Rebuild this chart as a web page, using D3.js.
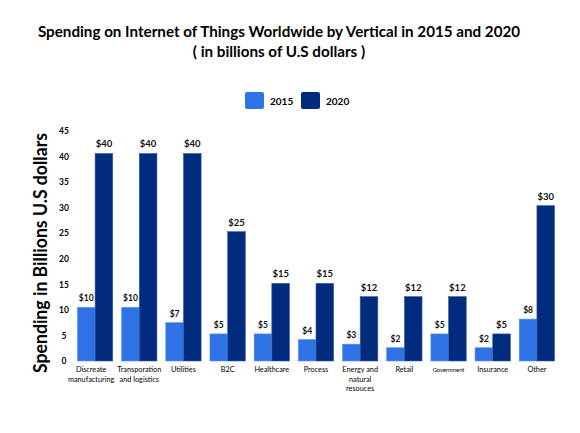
<!DOCTYPE html>
<html>
<head>
<meta charset="utf-8">
<script src="https://cdn.jsdelivr.net/npm/d3@7"></script>
<style>
  body { margin: 0; background: #fff; }
  svg { font-family: Lato, 'Open Sans', sans-serif; }
</style>
</head>
<body>
<svg width="580" height="433"></svg>
<script>
// categories (label lines) and values
const categories = [
  ['Discreate', 'manufacturing'],
  ['Transporation', 'and logistics'],
  ['Utilities'],
  ['B2C'],
  ['Healthcare'],
  ['Process'],
  ['Energy and', 'natural', 'resouces'],
  ['Retail'],
  ['Government'],
  ['Insurance'],
  ['Other']
];
const values2015 = [10.5, 10.5, 7.5, 5.3, 5.3, 4.2, 3.3, 2.6, 5.3, 2.6, 8.2];
const values2020 = [40.6, 40.6, 40.6, 25.3, 15.2, 15.2, 12.6, 12.6, 12.6, 5.3, 30.4];
const labels2015 = ['$10', '$10', '$7', '$5', '$5', '$4', '$3', '$2', '$5', '$2', '$8'];
const labels2020 = ['$40', '$40', '$40', '$25', '$15', '$15', '$12', '$12', '$12', '$5', '$30'];
const yTicks = [0, 5, 10, 15, 20, 25, 30, 35, 40, 45];
const seriesNames = ['2015', '2020'];
const colors = ['#2e72e6', '#012c7d'];

const svg = d3.select('svg');
const margin = { top: 131, right: 21, bottom: 72, left: 73 };
const width = +svg.attr('width') - margin.left - margin.right;
const height = +svg.attr('height') - margin.top - margin.bottom;

const g = svg.append('g')
  .attr('transform', `translate(${margin.left},${margin.top})`);

const ids = categories.map((c, i) => i);
const x = d3.scaleBand().domain(ids).range([0, width]).paddingInner(0.2).paddingOuter(0.1);
const x1 = d3.scaleBand().domain(seriesNames).range([0, x.bandwidth()]);
const y = d3.scaleLinear().domain([0, 45]).range([height, 0]);

// title
svg.append('text')
  .attr('x', 279).attr('y', 37)
  .attr('text-anchor', 'middle')
  .attr('font-size', 15.2).attr('font-weight', 'bold')
  .text('Spending on Internet of Things Worldwide by Vertical in 2015 and 2020');
svg.append('text')
  .attr('x', 279).attr('y', 57)
  .attr('text-anchor', 'middle')
  .attr('font-size', 15.2).attr('font-weight', 'bold')
  .text('( in billions of U.S dollars )');

// legend
const legend = svg.append('g');
seriesNames.forEach((name, i) => {
  const lx = 245 + i * 56;
  legend.append('rect')
    .attr('x', lx).attr('y', 92).attr('width', 19).attr('height', 17)
    .attr('rx', 2).attr('fill', colors[i]);
  legend.append('text')
    .attr('x', lx + 25).attr('y', 105)
    .attr('font-size', 10).attr('font-weight', 'bold')
    .text(name);
});

// y axis
const yAxis = g.append('g')
  .call(d3.axisLeft(y).tickValues(yTicks).tickSize(0).tickPadding(0));
yAxis.select('.domain').remove();
yAxis.selectAll('text')
  .attr('x', -9)
  .attr('text-anchor', 'middle')
  .attr('font-size', 8.5).attr('font-weight', 'bold')
  .attr('font-family', 'Lato, sans-serif')
  .attr('fill', '#000');

// y axis title
svg.append('text')
  .attr('transform', `translate(47,253) rotate(-90)`)
  .attr('text-anchor', 'middle')
  .attr('font-size', 19).attr('font-weight', 'bold')
  .attr('textLength', 240).attr('lengthAdjust', 'spacingAndGlyphs')
  .text('Spending in Billions U.S dollars');

// bars
const series = [values2015, values2020];
const seriesLabels = [labels2015, labels2020];
series.forEach((vals, s) => {
  g.selectAll(`.bar-${s}`)
    .data(vals)
    .enter().append('rect')
    .attr('class', `bar-${s}`)
    .attr('x', (d, i) => x(i) + x1(seriesNames[s]))
    .attr('y', d => y(d))
    .attr('width', x1.bandwidth())
    .attr('height', d => height - y(d))
    .attr('fill', colors[s])
    .attr('stroke', s === 0 ? '#5a95f0' : '#3a5fa8')
    .attr('stroke-width', 0.6);

  g.selectAll(`.lbl-${s}`)
    .data(vals)
    .enter().append('text')
    .attr('class', `lbl-${s}`)
    .attr('x', (d, i) => x(i) + x1(seriesNames[s]) + x1.bandwidth() / 2)
    .attr('y', d => y(d) - 6)
    .attr('text-anchor', 'middle')
    .attr('font-size', s === 0 ? 8.5 : 9.5)
    .attr('font-weight', 'bold')
    .attr('fill', '#111')
    .text((d, i) => seriesLabels[s][i]);
});

// x axis category labels
const xAxis = g.append('g')
  .attr('transform', `translate(0,${height})`);
categories.forEach((lines, i) => {
  const cx = x(i) + x.bandwidth() / 2 - (i === 0 ? 4 : 0);
  const t = xAxis.append('text')
    .attr('x', cx)
    .attr('y', 11)
    .attr('text-anchor', 'middle')
    .attr('font-size', lines[0] === 'Government' ? 5.8 : 7.3)
    .attr('font-weight', 'normal')
    .attr('fill', '#000');
  lines.forEach((line, k) => {
    t.append('tspan')
      .attr('x', cx)
      .attr('dy', k === 0 ? 0 : 9.5)
      .text(line);
  });
});
</script>
</body>
</html>
